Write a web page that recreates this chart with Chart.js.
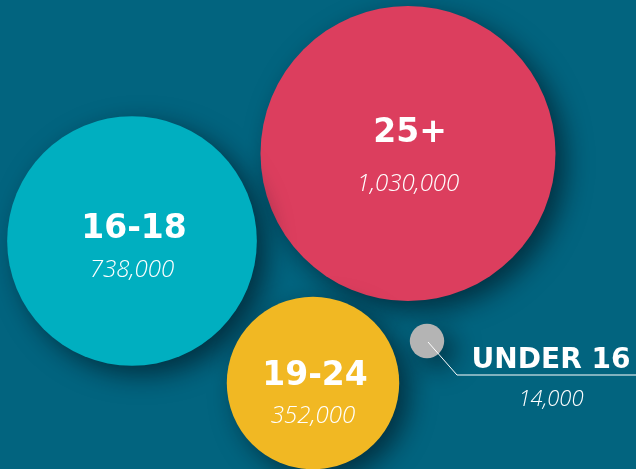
<!DOCTYPE html>
<html>
<head>
<meta charset="utf-8">
<script src="https://cdn.jsdelivr.net/npm/chart.js@4"></script>
<style>
  html, body { margin: 0; padding: 0; background: #02647f; }
  #wrap { width: 636px; height: 469px; }
</style>
</head>
<body>
<div id="wrap"><canvas id="myChart" width="636" height="469"></canvas></div>
<script>
// age groups and their counts
const groups = ['25+', '16-18', '19-24', 'UNDER 16']
const counts = [1030000, 738000, 352000, 14000]
const countLabels = ['1,030,000', '738,000', '352,000', '14,000']
// where each bubble sits on the (hidden) x / y scales
const xPos = [408, 132, 313, 427]
const yPos = [153.5, 241, 383, 341]

const colors = ['#dc3e5e', '#00afc0', '#f1b823', '#b4b4b4']

// bubble area proportional to count
const scaleK = 147.5 / Math.sqrt(1030000)

// label offsets from bubble center: [titleBaseline, valueBaseline]
const offsets = [[-12, 37], [-3, 36], [2, 40]]

const shadowPlugin = {
  id: 'shadow',
  beforeDatasetDraw(chart) {
    const ctx = chart.ctx
    ctx.save()
    ctx.shadowColor = 'rgba(0, 15, 25, 0.6)'
    ctx.shadowBlur = 26
    ctx.shadowOffsetX = 10
    ctx.shadowOffsetY = 9
  },
  afterDatasetDraw(chart) {
    chart.ctx.restore()
  }
}

const labelPlugin = {
  id: 'bubbleLabels',
  afterDatasetsDraw(chart) {
    const ctx = chart.ctx
    const pts = chart.getDatasetMeta(0).data
    ctx.save()
    ctx.fillStyle = '#ffffff'
    ctx.textAlign = 'center'
    ctx.textBaseline = 'alphabetic'
    pts.forEach((p, i) => {
      if (i < 3) {
        ctx.font = 'bold 33px "DejaVu Sans"'
        ctx.fillText(groups[i], p.x + 2, p.y + offsets[i][0])
        ctx.font = 'italic 300 24px "Open Sans"'
        ctx.fillText(countLabels[i], p.x, p.y + offsets[i][1])
      } else {
        // leader line for the small bubble
        ctx.strokeStyle = '#ffffff'
        ctx.lineWidth = 1
        ctx.beginPath()
        ctx.moveTo(p.x + 1, p.y + 1)
        ctx.lineTo(p.x + 30, p.y + 34)
        ctx.lineTo(chart.width, p.y + 34)
        ctx.stroke()
        ctx.font = 'bold 28px "DejaVu Sans"'
        ctx.fillText(groups[i], p.x + 124, p.y + 27)
        ctx.font = 'italic 300 22px "Open Sans"'
        ctx.fillText(countLabels[i], p.x + 124, p.y + 65)
      }
    })
    ctx.restore()
  }
}

const ctx = document.getElementById('myChart').getContext('2d')
const myChart = new Chart(ctx, {
  type: 'bubble',
  data: {
    datasets: [{
      label: 'count',
      data: counts.map((v, i) => ({ x: xPos[i], y: yPos[i], r: scaleK * Math.sqrt(v) })),
      backgroundColor: colors,
      borderWidth: 0,
      hoverBorderWidth: 0,
      clip: false
    }]
  },
  options: {
    responsive: false,
    animation: false,
    events: [],
    layout: { padding: 0, autoPadding: false },
    plugins: {
      legend: { display: false },
      tooltip: { enabled: false }
    },
    scales: {
      x: { type: 'linear', min: 0, max: 636, display: false },
      y: { type: 'linear', min: 0, max: 469, reverse: true, display: false }
    }
  },
  plugins: [shadowPlugin, labelPlugin]
})
</script>
</body>
</html>
